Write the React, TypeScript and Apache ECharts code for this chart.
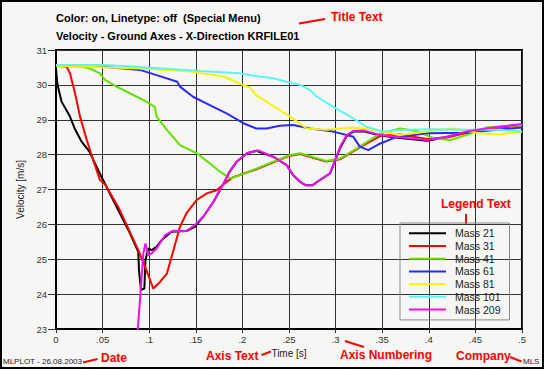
import React, { useEffect, useRef } from "react";
import * as echarts from "echarts";

const seriesNames = ["Mass 21", "Mass 31", "Mass 41", "Mass 61", "Mass 81", "Mass 101", "Mass 209"];
const seriesColors = ["#000000", "#ff0000", "#66e000", "#2a2aff", "#f5f500", "#5cf5f5", "#ee11ee"];

const mass21 = [
  [0, 30.47], [0.0012, 30.1], [0.0025, 29.9], [0.006, 29.52], [0.015, 29.09], [0.02, 28.75], [0.0275, 28.37],
  [0.036, 28.08], [0.0418, 27.75], [0.049, 27.35], [0.056, 26.98], [0.0668, 26.41], [0.0776, 25.84],
  [0.0883, 25.21], [0.089, 24.69], [0.0912, 24.12], [0.0948, 24.16], [0.096, 24.98], [0.099, 25.31],
  [0.1027, 25.26], [0.108, 25.36], [0.1134, 25.55], [0.124, 25.79], [0.14, 25.81],
  [0.149, 25.93], [0.158, 26.22], [0.169, 26.65], [0.18, 27.18], [0.186, 27.5], [0.194, 27.8],
  [0.205, 28.04], [0.215, 28.11], [0.233, 27.94], [0.2475, 27.7], [0.2546, 27.41], [0.262, 27.22],
  [0.268, 27.12], [0.275, 27.12], [0.282, 27.25], [0.294, 27.46], [0.305, 28.2], [0.312, 28.54],
  [0.319, 28.66], [0.33, 28.67], [0.348, 28.55], [0.369, 28.48], [0.398, 28.4], [0.419, 28.5],
  [0.44, 28.64], [0.469, 28.76], [0.5, 28.86],
];
const mass31 = [
  [0, 30.55], [0.0115, 30.52], [0.015, 30.33], [0.0204, 29.76], [0.0258, 29.09], [0.033, 28.42],
  [0.04, 27.84], [0.0472, 27.27], [0.0526, 27.15], [0.0668, 26.5], [0.0883, 25.26], [0.092, 25.02],
  [0.097, 24.69], [0.1044, 24.16], [0.1116, 24.35], [0.119, 24.59], [0.126, 25.26], [0.133, 25.93],
  [0.14, 26.32], [0.151, 26.7], [0.1617, 26.89], [0.1724, 26.98], [0.183, 27.22], [0.19, 27.35],
  [0.215, 27.58], [0.251, 27.97], [0.262, 28.02], [0.29, 27.8], [0.305, 27.87], [0.326, 28.21],
  [0.348, 28.54], [0.369, 28.58], [0.398, 28.45], [0.42, 28.5], [0.44, 28.62], [0.47, 28.75], [0.5, 28.85],
];
const mass41 = [
  [0, 30.55], [0.022, 30.57], [0.0365, 30.47], [0.047, 30.33], [0.0526, 30.14], [0.065, 29.95],
  [0.083, 29.71], [0.097, 29.52], [0.106, 29.37], [0.108, 29.09], [0.119, 28.71], [0.133, 28.27],
  [0.151, 28.04], [0.165, 27.75], [0.176, 27.51], [0.187, 27.32], [0.197, 27.41], [0.215, 27.6],
  [0.251, 27.99], [0.262, 28.04], [0.29, 27.82], [0.305, 27.89], [0.326, 28.23], [0.348, 28.61],
  [0.369, 28.75], [0.387, 28.68], [0.405, 28.47], [0.423, 28.42], [0.44, 28.56], [0.462, 28.78], [0.5, 28.85],
];
const mass61 = [
  [0, 30.55], [0.05, 30.52], [0.072, 30.47], [0.09, 30.43], [0.108, 30.28], [0.13, 30.09], [0.133, 29.95],
  [0.147, 29.66], [0.165, 29.42], [0.183, 29.18], [0.201, 28.9], [0.215, 28.75], [0.226, 28.75],
  [0.24, 28.83], [0.2546, 28.85], [0.2725, 28.75], [0.2975, 28.66], [0.319, 28.51], [0.326, 28.23],
  [0.335, 28.13], [0.348, 28.32], [0.365, 28.5], [0.398, 28.61], [0.44, 28.63], [0.5, 28.78],
];
const mass81 = [
  [0, 30.55], [0.09, 30.47], [0.144, 30.38], [0.18, 30.24], [0.197, 30.04], [0.208, 29.92],
  [0.215, 29.7], [0.237, 29.33], [0.251, 29.09], [0.269, 28.75], [0.29, 28.71], [0.319, 28.78],
  [0.34, 28.71], [0.369, 28.56], [0.398, 28.66], [0.426, 28.75], [0.455, 28.61], [0.476, 28.58], [0.5, 28.66],
];
const mass101 = [
  [0, 30.57], [0.054, 30.57], [0.126, 30.45], [0.1545, 30.4], [0.197, 30.33], [0.208, 30.28],
  [0.233, 30.19], [0.2475, 30.09], [0.262, 30.0], [0.2725, 29.85], [0.28, 29.66], [0.2975, 29.37],
  [0.319, 29.04], [0.333, 28.8], [0.351, 28.66], [0.376, 28.71], [0.405, 28.73], [0.44, 28.71],
  [0.476, 28.71], [0.5, 28.66],
];
const mass209 = [
  [0.0872, 22.8], [0.0901, 23.83], [0.0937, 25.17], [0.096, 25.45], [0.099, 25.12], [0.1027, 25.17],
  [0.108, 25.31], [0.117, 25.69], [0.126, 25.82],
  [0.14, 25.81], [0.149, 25.98], [0.158, 26.22], [0.169, 26.65], [0.18, 27.18], [0.186, 27.5],
  [0.194, 27.8], [0.205, 28.04], [0.217, 28.12], [0.233, 27.94], [0.2475, 27.7], [0.2546, 27.41],
  [0.262, 27.22], [0.268, 27.12], [0.275, 27.12], [0.282, 27.25], [0.294, 27.46], [0.305, 28.23],
  [0.312, 28.56], [0.319, 28.68], [0.33, 28.69], [0.348, 28.56], [0.369, 28.5], [0.398, 28.42],
  [0.419, 28.51], [0.44, 28.66], [0.469, 28.78], [0.5, 28.88],
];
const allSeries = [mass21, mass31, mass41, mass61, mass81, mass101, mass209];

const titleLines = ["Color: on, Linetype: off  (Special Menu)", "Velocity - Ground Axes - X-Direction KRFILE01"];
const xAxisName = "Time [s]";
const yAxisName = "Velocity [m/s]";
const dateText = "MLPLOT - 26.08.2003";
const companyText = "MLS";

const FONT = "Arial, 'Liberation Sans', sans-serif";
const RED = "#ff0000";

export default function App() {
  const ref = useRef<HTMLDivElement>(null);
  useEffect(() => {
    document.body.style.margin = "0";
    const chart = echarts.init(ref.current!, null, { renderer: "svg" });
    const redText = (text: string, x: number, y: number) => ({
      type: "text",
      x,
      y,
      style: { text, fill: RED, font: `bold 12px ${FONT}`, textVerticalAlign: "middle" },
      silent: true,
    });
    const redLine = (x1: number, y1: number, x2: number, y2: number) => ({
      type: "line",
      shape: { x1, y1, x2, y2 },
      style: { stroke: RED, lineWidth: 2 },
      silent: true,
    });
    chart.setOption({
      animation: false,
      backgroundColor: "#f6f6f4",
      title: [
        { text: titleLines[0], left: 56, top: 11, padding: 0, textStyle: { fontFamily: FONT, fontSize: 11, fontWeight: "bold", color: "#000", lineHeight: 14 } },
        { text: titleLines[1], left: 56, top: 29, padding: 0, textStyle: { fontFamily: FONT, fontSize: 11, fontWeight: "bold", color: "#000", lineHeight: 14 } },
      ],
      grid: {
        left: 56, top: 50, right: 22, bottom: 40,
        show: true, backgroundColor: "transparent", borderColor: "#000", borderWidth: 2,
      },
      legend: {
        orient: "vertical",
        left: 400,
        top: 223,
        padding: [4, 9, 4, 9],
        itemGap: 0,
        itemWidth: 37,
        itemHeight: 2,
        icon: "rect",
        borderColor: "#8a8a8a",
        borderWidth: 1,
        backgroundColor: "transparent",
        textStyle: { fontFamily: FONT, fontSize: 10.5, color: "#222", lineHeight: 12.7, padding: [0, 0, 0, 4] },
        data: seriesNames,
      },
      xAxis: {
        type: "value",
        min: 0,
        max: 0.5,
        interval: 0.05,
        name: xAxisName,
        nameLocation: "middle",
        nameGap: 16,
        nameTextStyle: { fontFamily: FONT, fontSize: 10, color: "#222" },
        axisLine: { show: true, lineStyle: { color: "#000", width: 2 } },
        axisTick: { show: true, length: 4, lineStyle: { color: "#333" } },
        axisLabel: {
          fontFamily: FONT, fontSize: 9.5, color: "#333", margin: 5,
          formatter: (v: number) => (v === 0 ? "0" : String(Number(v.toFixed(2))).replace(/^0/, "")),
        },
        splitLine: { show: true, lineStyle: { color: "#333", width: 1 } },
      },
      yAxis: {
        type: "value",
        min: 23,
        max: 31,
        interval: 1,
        name: yAxisName,
        nameLocation: "middle",
        nameGap: 28,
        nameRotate: 90,
        nameTextStyle: { fontFamily: FONT, fontSize: 10, color: "#222" },
        axisLine: { show: true, lineStyle: { color: "#000", width: 2 } },
        axisTick: { show: true, length: 8, lineStyle: { color: "#333" } },
        axisLabel: { fontFamily: FONT, fontSize: 9.5, color: "#333", margin: 9 },
        splitLine: { show: true, lineStyle: { color: "#333", width: 1 } },
      },
      series: allSeries.map((data, i) => ({
        name: seriesNames[i],
        type: "line",
        data,
        showSymbol: false,
        symbol: "none",
        clip: true,
        color: seriesColors[i],
        lineStyle: { color: seriesColors[i], width: 2 },
        z: 2 + i,
      })),
      graphic: [
        { type: "rect", shape: { x: 1, y: 1, width: 542, height: 367 }, style: { fill: "none", stroke: "#000", lineWidth: 2 }, silent: true, z: 100 },
        redText("Title Text", 331, 17),
        redLine(299, 23.5, 325, 19),
        redText("Legend Text", 441, 204),
        redLine(466, 214, 466, 225),
        redText("Date", 101, 358),
        redLine(83, 362.5, 97.5, 359),
        redText("Axis Text", 206, 356),
        redLine(261.5, 355, 271, 351.5),
        redText("Axis Numbering", 340, 355),
        redLine(345, 341, 364, 347),
        redText("Company", 456, 356),
        redLine(510, 357, 521.5, 361.5),
        {
          type: "text", x: 3, y: 361,
          style: { text: dateText, fill: "#222", font: `8px ${FONT}`, textVerticalAlign: "middle" },
          silent: true,
        },
        {
          type: "text", x: 523, y: 361.5,
          style: { text: companyText, fill: "#222", font: `8px ${FONT}`, textVerticalAlign: "middle" },
          silent: true,
        },
      ],
    });
    return () => chart.dispose();
  }, []);
  return <div ref={ref} style={{ width: 544, height: 369 }} />;
}
